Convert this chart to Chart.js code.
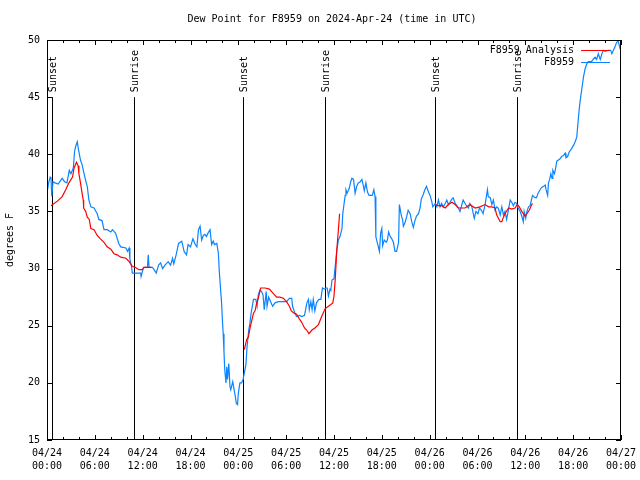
<!DOCTYPE html>
<html>
<head>
<meta charset="utf-8">
<script src="https://cdn.jsdelivr.net/npm/chart.js@4/dist/chart.umd.min.js"></script>
<style>
  html, body { margin: 0; padding: 0; background: #fff; }
  canvas { display: block; }
</style>
</head>
<body>
<canvas id="dew" width="640" height="480"></canvas>
<script>
// hours since 04/24 00:00 UTC, dew point in F
const obsHours = [0.0,0.2,0.4,0.5,0.6,0.75,1.0,1.4,1.9,2.2,2.5,2.8,3.0,3.3,3.45,3.6,3.8,3.95,4.2,4.4,4.65,4.85,5.05,5.25,5.5,5.9,6.3,6.5,6.9,7.15,7.55,8.0,8.2,8.6,9.0,9.25,9.9,10.1,10.3,10.4,10.6,10.7,10.9,11.75,11.8,12.1,12.6,12.7,12.8,13.2,13.35,13.7,14.0,14.25,14.5,14.8,15.2,15.5,15.75,15.9,16.2,16.5,16.9,17.2,17.5,17.7,18.0,18.3,18.6,18.8,19.0,19.2,19.4,19.6,19.8,20.0,20.2,20.45,20.65,20.85,21.0,21.3,21.5,21.6,21.75,21.9,22.0,22.1,22.2,22.3,22.45,22.55,22.65,22.8,22.95,23.05,23.3,23.45,23.6,23.75,23.9,24.0,24.2,24.4,24.6,24.95,25.1,25.3,25.45,25.6,25.9,26.2,26.35,26.5,26.7,26.9,27.1,27.25,27.5,27.6,27.8,28.05,28.3,28.6,29.0,30.05,30.4,30.7,30.8,31.1,31.3,31.65,31.95,32.3,32.6,32.8,32.9,33.1,33.25,33.4,33.6,33.8,34.1,34.35,34.55,34.8,35.0,35.15,35.3,35.5,35.6,35.75,36.0,36.15,36.35,36.55,36.75,37.0,37.1,37.25,37.4,37.5,37.65,37.9,38.1,38.25,38.45,38.65,38.85,39.05,39.3,39.5,39.7,39.8,40.0,40.2,40.4,40.6,40.8,41.0,41.15,41.25,41.45,41.6,41.7,41.85,42.0,42.1,42.3,42.55,42.7,42.85,43.0,43.25,43.45,43.65,43.85,44.1,44.2,44.4,44.5,44.6,44.7,44.9,45.1,45.3,45.55,45.75,45.95,46.15,46.35,46.6,46.8,46.95,47.15,47.4,47.6,47.85,48.05,48.25,48.4,48.7,48.9,49.1,49.3,49.5,49.7,49.95,50.15,50.35,50.55,50.8,50.95,51.2,51.4,51.6,51.8,52.0,52.2,52.45,52.6,52.85,53.05,53.3,53.5,53.6,53.8,54.05,54.25,54.5,54.7,54.95,55.25,55.35,55.6,55.8,56.0,56.2,56.4,56.6,56.85,57.05,57.25,57.45,57.65,57.85,58.1,58.3,58.5,58.7,58.9,59.1,59.35,59.55,59.75,59.85,60.05,60.2,60.4,60.6,60.9,61.2,61.4,61.6,61.85,62.05,62.3,62.5,62.6,62.8,62.9,63.05,63.2,63.35,63.45,63.65,63.75,63.95,64.15,64.35,64.55,64.8,65.0,65.1,65.3,65.5,65.8,66.05,66.25,66.45,66.6,66.75,66.9,67.1,67.3,67.5,67.7,67.9,68.3,68.5,68.75,68.95,69.15,69.4,69.6,69.8,70.0,70.45,70.7,70.85,71.05,71.25,71.45,71.65,71.9];
const obsDew = [36.6,37.5,38.0,37.9,36.3,37.6,37.5,37.4,37.9,37.6,37.5,38.6,38.3,38.8,40.2,40.7,41.1,40.4,39.5,39.1,38.3,37.7,37.2,36.0,35.4,35.3,34.8,34.3,34.2,33.4,33.4,33.2,33.4,33.1,32.2,31.9,31.8,31.5,31.8,30.8,30.2,29.6,29.6,29.6,29.3,30.1,30.1,31.2,30.1,30.1,30.0,29.6,30.3,30.5,30.0,30.3,30.6,30.3,30.9,30.4,31.2,32.2,32.4,31.5,31.2,32.1,31.9,32.6,32.1,31.9,33.4,33.7,32.5,32.9,33.0,32.8,33.1,33.4,32.1,32.4,32.1,32.2,31.3,29.9,28.4,27.0,25.5,24.3,22.7,21.1,20.0,21.4,20.3,21.7,19.7,19.4,20.1,19.5,18.9,18.2,18.1,19.1,20.0,20.0,20.3,21.6,23.2,24.6,25.2,26.1,27.3,27.3,26.7,27.7,28.1,28.0,27.7,26.4,28.0,26.7,27.5,27.1,26.7,27.0,27.1,27.1,27.4,27.4,26.7,26.1,25.8,25.9,25.8,25.9,27.0,27.3,26.4,27.1,26.4,27.3,26.3,27.0,27.3,27.3,28.3,28.2,28.3,28.3,27.6,28.2,28.1,29.0,29.1,30.2,31.6,32.5,32.8,33.5,34.8,35.6,36.4,36.9,36.6,37.0,37.6,37.9,37.8,36.6,37.2,37.5,37.6,37.8,37.2,36.8,37.5,36.7,36.4,36.4,36.4,36.9,36.3,32.8,32.2,31.8,31.5,33.1,33.5,32.0,32.5,32.3,32.5,33.2,32.9,32.6,32.3,31.5,31.5,32.3,35.6,34.8,34.5,34.3,33.7,34.0,34.5,35.1,34.8,34.1,33.6,34.2,34.6,34.8,35.3,36.1,36.4,36.9,37.2,36.7,36.4,35.9,35.4,35.7,35.4,36.0,35.4,35.7,35.4,35.7,36.0,35.6,35.8,36.1,36.2,35.7,35.5,35.3,35.0,35.5,36.0,35.7,35.5,35.3,35.7,35.4,34.7,34.4,35.0,34.8,35.3,35.1,34.8,35.6,36.9,36.3,36.2,35.6,36.0,35.1,35.4,35.3,34.7,35.4,34.7,35.0,34.3,35.0,36.0,35.8,35.5,35.8,35.7,35.3,35.0,34.6,34.1,35.0,34.4,35.0,35.4,35.5,36.4,36.2,36.2,36.6,36.9,37.1,37.2,37.3,36.9,36.4,37.5,37.8,38.3,37.9,38.6,38.3,38.6,39.4,39.5,39.6,39.8,39.9,40.1,39.7,39.8,40.2,40.5,40.8,41.1,41.5,42.7,43.9,44.8,45.8,46.8,47.5,47.9,48.1,48.1,48.3,48.5,48.3,48.8,48.3,48.8,49.1,49.0,49.1,49.1,48.8,49.1,49.4,49.8,49.9,49.2];

// analysis, null marks the gaps between runs
const anaHours = [0.5,1.3,1.9,2.35,2.75,3.2,3.4,3.7,3.9,4.0,4.2,4.4,4.55,4.6,4.85,5.05,5.3,5.5,5.9,6.3,6.7,7.15,7.55,8.0,8.4,8.8,9.25,9.9,10.3,10.7,11.1,11.55,11.95,12.2,13.1,18.0,
  24.75,25.05,25.25,25.5,25.7,25.9,26.1,26.3,26.5,26.8,27.35,27.9,28.4,28.8,29.2,29.65,30.05,30.4,30.65,31.0,31.3,31.65,31.95,32.3,32.6,32.85,33.2,33.6,34.05,34.45,34.9,35.3,35.85,36.0,36.15,36.35,36.55,36.7,42.0,
  48.7,49.1,49.5,49.95,50.35,50.8,51.2,51.6,52.0,52.45,53.05,53.7,54.3,54.95,55.4,55.8,56.2,56.4,56.85,57.05,57.25,57.45,57.9,58.3,58.7,59.0,59.25,59.55,59.95,60.2,60.5,60.8,60.9];
const anaDew = [35.5,35.9,36.3,36.9,37.5,38.0,38.8,39.3,39.0,38.3,37.5,36.6,36.0,35.3,35.0,34.5,34.3,33.5,33.4,32.9,32.6,32.3,31.9,31.7,31.3,31.2,31.0,30.9,30.6,30.2,30.1,29.9,29.9,30.1,30.1,null,
  22.9,23.8,24.0,24.9,25.5,26.1,26.3,27.0,27.4,28.3,28.3,28.2,27.8,27.5,27.5,27.4,27.1,26.7,26.3,26.1,26.0,25.6,25.3,24.8,24.6,24.3,24.6,24.8,25.1,25.8,26.5,26.7,27.0,27.6,29.0,31.6,33.4,34.8,null,
  35.6,35.5,35.5,35.3,35.6,35.8,35.6,35.3,35.3,35.3,35.6,35.3,35.4,35.6,35.4,35.4,35.3,34.7,34.1,34.1,34.5,34.8,35.3,35.2,35.3,35.6,35.4,35.0,34.6,34.8,35.1,35.6,35.7];

const sunHours = [0.58, 10.95, 24.63, 34.92, 48.72, 59.0];
const sunNames = ['Sunset', 'Sunrise', 'Sunset', 'Sunrise', 'Sunset', 'Sunrise'];
const days = ['04/24', '04/25', '04/26', '04/27'];

const FONT = '10px "DejaVu Sans Mono", monospace';
const BLUE = '#0a84ff';
const RED = '#ff0000';

function pts(xs, ys) {
  return xs.map((x, i) => ({ x: x, y: ys[i] }));
}

// gnuplot-ish frame, inward ticks, sun lines, legend, title
const gnuFrame = {
  id: 'gnuFrame',
  beforeDatasetsDraw(chart) {
    const { ctx, chartArea: a, scales: { x, y } } = chart;
    ctx.save();
    ctx.strokeStyle = '#000';
    ctx.fillStyle = '#000';
    ctx.lineWidth = 1;
    ctx.font = FONT;
    const yBot = y.getPixelForValue(15), yTop = y.getPixelForValue(45);
    sunHours.forEach((h, i) => {
      const px = Math.round(x.getPixelForValue(h)) + 0.5;
      ctx.beginPath();
      ctx.moveTo(px, yBot);
      ctx.lineTo(px, yTop);
      ctx.stroke();
      ctx.save();
      ctx.translate(px + 1, yTop - 5);
      ctx.rotate(-Math.PI / 2);
      ctx.textAlign = 'left';
      ctx.textBaseline = 'middle';
      ctx.fillText(sunNames[i], 0, 0);
      ctx.restore();
    });
    ctx.restore();
  },
  afterDraw(chart) {
    const { ctx, chartArea: a, scales: { x, y } } = chart;
    ctx.save();
    ctx.strokeStyle = '#000';
    ctx.lineWidth = 1;
    ctx.strokeRect(a.left + 0.5, a.top + 0.5, a.right - a.left - 1, a.bottom - a.top - 1);
    ctx.beginPath();
    for (let h = 0; h <= 72; h += 2) {
      const px = Math.round(x.getPixelForValue(h)) + 0.5;
      const len = h % 6 === 0 ? 5 : 3;
      ctx.moveTo(px, a.bottom); ctx.lineTo(px, a.bottom - len);
      ctx.moveTo(px, a.top); ctx.lineTo(px, a.top + len);
    }
    for (let v = 15; v <= 50; v += 5) {
      const py = Math.round(y.getPixelForValue(v)) + 0.5;
      ctx.moveTo(a.left, py); ctx.lineTo(a.left + 5, py);
      ctx.moveTo(a.right, py); ctx.lineTo(a.right - 5, py);
    }
    ctx.stroke();

    // title
    ctx.fillStyle = '#000';
    ctx.font = FONT;
    ctx.textAlign = 'center';
    ctx.textBaseline = 'middle';
    ctx.fillText(chart.options.plugins.title.text, 332, 19);

    // legend
    ctx.textAlign = 'right';
    chart.data.datasets.forEach((ds, i) => {
      const ly = 50 + i * 12;
      ctx.fillStyle = '#000';
      ctx.fillText(ds.label, 574, ly);
      ctx.strokeStyle = ds.borderColor;
      ctx.beginPath();
      ctx.moveTo(581, ly + 0.5);
      ctx.lineTo(610, ly + 0.5);
      ctx.stroke();
    });
    ctx.restore();
  }
};

new Chart(document.getElementById('dew'), {
  type: 'line',
  data: {
    datasets: [
      {
        label: 'F8959 Analysis',
        data: pts(anaHours, anaDew),
        borderColor: RED,
        borderWidth: 1.2,
        pointRadius: 0,
        spanGaps: false,
        tension: 0
      },
      {
        label: 'F8959',
        data: pts(obsHours, obsDew),
        borderColor: BLUE,
        borderWidth: 1.2,
        pointRadius: 0,
        tension: 0
      }
    ]
  },
  options: {
    responsive: false,
    animation: false,
    devicePixelRatio: 1,
    layout: { padding: { top: 40, right: 19, left: 0, bottom: 0 } },
    plugins: {
      legend: { display: false },
      tooltip: { enabled: false },
      title: { display: false, text: 'Dew Point for F8959 on 2024-Apr-24 (time in UTC)' }
    },
    scales: {
      x: {
        type: 'linear',
        min: 0,
        max: 72,
        afterFit: s => { s.height = 40; s.paddingLeft = 0; s.paddingRight = 0; },
        afterBuildTicks: s => {
          s.ticks = [];
          for (let h = 0; h <= 72; h += 6) s.ticks.push({ value: h });
        },
        grid: { display: false, drawTicks: false },
        border: { display: false },
        ticks: {
          padding: 7,
          maxRotation: 0,
          autoSkip: false,
          color: '#000',
          font: { family: '"DejaVu Sans Mono", monospace', size: 10, lineHeight: 1.3 },
          callback: v => {
            const hh = v % 24;
            return [days[Math.floor(v / 24)], (hh < 10 ? '0' : '') + hh + ':00'];
          }
        }
      },
      y: {
        min: 15,
        max: 50,
        afterFit: s => { s.width = 47; s.paddingTop = 0; s.paddingBottom = 0; },
        grid: { display: false, drawTicks: false },
        border: { display: false },
        ticks: {
          stepSize: 5,
          padding: 7,
          color: '#000',
          font: { family: '"DejaVu Sans Mono", monospace', size: 10 }
        },
        title: {
          display: true,
          text: 'degrees F',
          color: '#000',
          padding: { top: 4, bottom: 0 },
          font: { family: '"DejaVu Sans Mono", monospace', size: 10 }
        }
      }
    }
  },
  plugins: [gnuFrame]
});
</script>
</body>
</html>
